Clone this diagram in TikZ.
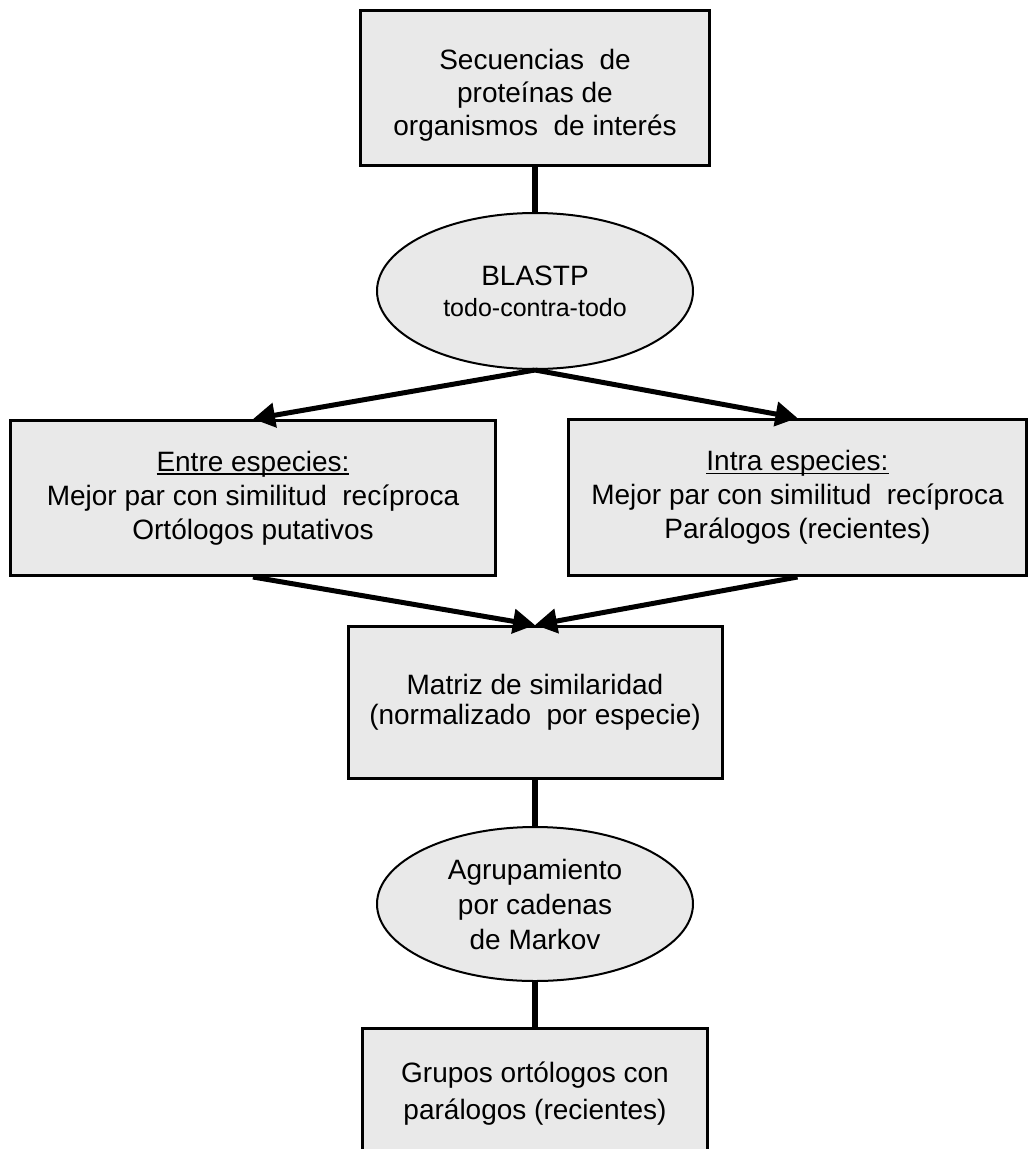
\documentclass[tikz,border=0pt]{standalone}
\usepackage{fontspec}
\setmainfont{Liberation Sans}
\usetikzlibrary{shapes.geometric,arrows.meta}
\definecolor{boxfill}{RGB}{233,233,233}
\newcommand{\myuline}[1]{{\setbox0\hbox{#1}\rlap{\rule[-3.5pt]{\wd0}{1.4pt}}\box0}}
\begin{document}
\begin{tikzpicture}[x=1pt,y=-1pt,
  rectbox/.style={draw=black, line width=3pt, fill=boxfill, align=center, inner sep=0pt},
  ellbox/.style={ellipse, draw=black, line width=2pt, fill=boxfill, align=center, inner sep=0pt},
  conn/.style={line width=5.5pt},
  arr/.style={line width=5pt, -{Triangle[length=22pt,width=24pt]}}]
\useasboundingbox (0,0) rectangle (1032,1149);
\clip (0,0) rectangle (1032,1149);

\node[rectbox, minimum width=349pt, minimum height=155pt,
      font=\fontsize{28}{33}\selectfont] (seq) at (535,88)
  {\rule{0pt}{35pt}Secuencias\ \ de\\ proteínas de\\ organismos\ \ de interés};

\node[ellbox, minimum width=316pt, minimum height=156pt,
      font=\fontsize{28}{31}\selectfont] (blast) at (535,291)
  {BLASTP\\ {\fontsize{25}{31}\selectfont todo-contra-todo}};

\node[rectbox, minimum width=485pt, minimum height=155pt,
      font=\fontsize{28}{34}\selectfont] (entre) at (253,498)
  {\myuline{Entre especies:}\\ Mejor par con similitud\ \ recíproca\\ Ortólogos putativos};

\node[rectbox, minimum width=458pt, minimum height=156pt,
      font=\fontsize{28}{34}\selectfont] (intra) at (797.5,497.5)
  {\myuline{Intra especies:}\\ Mejor par con similitud\ \ recíproca\\ Parálogos (recientes)};

\node[rectbox, minimum width=374pt, minimum height=152pt,
      font=\fontsize{28}{30}\selectfont] (matriz) at (535,702.5)
  {Matriz de similaridad\\ (normalizado\ \ por especie)};

\node[ellbox, minimum width=316pt, minimum height=154pt,
      font=\fontsize{28}{35}\selectfont] (markov) at (535,904)
  {Agrupamiento\\ por cadenas\\ de Markov};

\node[rectbox, minimum width=345pt, minimum height=132pt,
      font=\fontsize{28}{37}\selectfont] (grupos) at (535,1094)
  {Grupos ortólogos con\\ parálogos (recientes)};

\draw[conn] (seq.south) -- (blast.north);
\draw[arr] (blast.south) -- (entre.north);
\draw[arr] (blast.south) -- (intra.north);
\draw[arr] (entre.south) -- (matriz.north);
\draw[arr] (intra.south) -- (matriz.north);
\draw[conn] (matriz.south) -- (markov.north);
\draw[conn] (markov.south) -- (grupos.north);
\end{tikzpicture}
\end{document}
